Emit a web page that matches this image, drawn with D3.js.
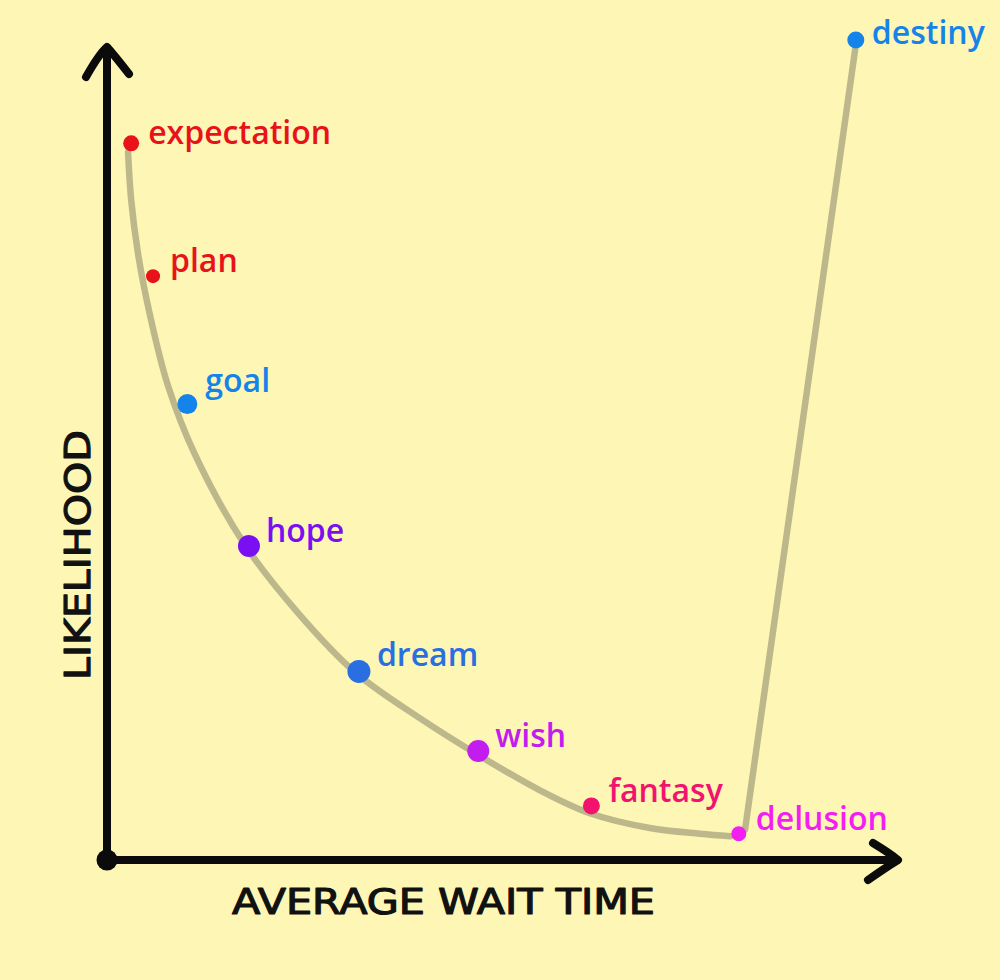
<!DOCTYPE html>
<html>
<head>
<meta charset="utf-8">
<script src="https://cdn.jsdelivr.net/npm/d3@7"></script>
<style>
  html, body { margin: 0; padding: 0; background: #fdf6b4; }
  svg { display: block; }
  .lbl { font-family: "Open Sans", sans-serif; font-weight: 600; font-size: 32px; }
  .axis-title { font-family: "DejaVu Sans", sans-serif; font-weight: normal; font-size: 36px; fill: #111; stroke: #111; stroke-width: 1.2; stroke-linejoin: round; }
</style>
</head>
<body>
<div id="chart"></div>
<script>

// words along the curve (x = average wait time, y = likelihood)
var words   = ['expectation', 'plan', 'goal', 'hope', 'dream', 'wish', 'fantasy', 'delusion', 'destiny'];
var waitT   = [3.1, 5.9, 10.3, 18.2, 32.3, 47.6, 62.1, 81.0, 96.0];
var likely  = [87.4, 71.2, 55.6, 38.3, 23.0, 13.3, 6.6, 3.2, 100.0];
var colors  = ['#e8121b', '#e8121b', '#1584ea', '#7a10f2', '#2a6fe2', '#c21cef', '#f2136f', '#f31ef2', '#1584ea'];
var dotSize = [8, 7, 10, 11, 11.5, 11, 8.5, 7.5, 8.5];

// the hand drawn decay curve
var curveX = [2.7, 3.1, 4.0, 5.5, 7.8, 11.3, 17.7, 24.7, 31.8, 40.1, 47.6, 55.5, 61.9, 69.6, 76.0, 79.9];
var curveY = [86.3, 80.5, 73.8, 66.5, 57.9, 49.4, 38.4, 29.9, 22.9, 17.3, 12.8, 8.5, 5.7, 3.9, 3.2, 2.9];

// the jump from delusion up to destiny
var riseX = [81.8, 96.0];
var riseY = [3.7, 99.4];

var width = 1000, height = 980;

var x = d3.scaleLinear().domain([0, 100]).range([107, 887]),
    y = d3.scaleLinear().domain([0, 100]).range([860, 40]);

// small label nudges (px)
var nudge = { goal: [18, -12], dream: [18, -5], destiny: [16, 4], expectation: [17, 1] };

var svg = d3.select('#chart').append('svg')
    .attr('width', width)
    .attr('height', height);

svg.append('rect')
    .attr('width', width).attr('height', height)
    .attr('fill', '#fdf6b4');

// curve
var line = d3.line()
    .x(d => x(d[0]))
    .y(d => y(d[1]))
    .curve(d3.curveCatmullRom);

svg.append('path')
    .datum(curveX.map((v, i) => [v, curveY[i]]))
    .attr('d', line)
    .attr('fill', 'none')
    .attr('stroke', '#bdb88c')
    .attr('stroke-width', 6.5)
    .attr('stroke-linecap', 'round');

svg.append('path')
    .datum(riseX.map((v, i) => [v, riseY[i]]))
    .attr('d', d3.line().x(d => x(d[0])).y(d => y(d[1])))
    .attr('fill', 'none')
    .attr('stroke', '#bdb88c')
    .attr('stroke-width', 6.5)
    .attr('stroke-linecap', 'round');

// axes, drawn like marker strokes
var ax = svg.append('g')
    .attr('fill', 'none')
    .attr('stroke', '#0b0b0b')
    .attr('stroke-width', 8)
    .attr('stroke-linecap', 'round')
    .attr('stroke-linejoin', 'round');

ax.append('path')
    .attr('d', `M${x(0)},${y(0)} L${x(0)},${y(100) + 8}`);
ax.append('path')
    .attr('d', `M${x(0) - 21},${y(100) + 37} Q${x(0) - 8},${y(100) + 14} ${x(0)},${y(100) + 7} Q${x(0) + 8},${y(100) + 16} ${x(0) + 22},${y(100) + 34}`);

ax.append('path')
    .attr('d', `M${x(0)},${y(0)} L${x(100) + 10},${y(0)}`);
ax.append('path')
    .attr('d', `M${x(100) - 14},${y(0) - 17} Q${x(100) + 4},${y(0) - 6} ${x(100) + 11},${y(0)} Q${x(100) - 2},${y(0) + 8} ${x(100) - 19},${y(0) + 20}`);

svg.append('circle')
    .attr('cx', x(0)).attr('cy', y(0))
    .attr('r', 10.5)
    .attr('fill', '#0b0b0b');

// axis titles
svg.append('text')
    .attr('class', 'axis-title')
    .attr('x', 232).attr('y', 914)
    .attr('textLength', 423)
    .attr('lengthAdjust', 'spacingAndGlyphs')
    .text('AVERAGE WAIT TIME');

svg.append('text')
    .attr('class', 'axis-title')
    .attr('transform', 'translate(90,680) rotate(-90)')
    .attr('textLength', 250)
    .attr('lengthAdjust', 'spacingAndGlyphs')
    .text('LIKELIHOOD');

// dots and words
var pts = words.map((w, i) => ({ w: w, x: waitT[i], y: likely[i], c: colors[i], r: dotSize[i] }));

svg.append('g').selectAll('circle')
    .data(pts).enter()
  .append('circle')
    .attr('cx', d => x(d.x))
    .attr('cy', d => y(d.y))
    .attr('r', d => d.r)
    .attr('fill', d => d.c);

svg.append('g').selectAll('text')
    .data(pts).enter()
  .append('text')
    .attr('class', 'lbl')
    .attr('x', d => x(d.x) + (nudge[d.w] ? nudge[d.w][0] : 17))
    .attr('y', d => y(d.y) + (nudge[d.w] ? nudge[d.w][1] : -4))
    .attr('fill', d => d.c)
    .text(d => d.w);

</script>
</body>
</html>
